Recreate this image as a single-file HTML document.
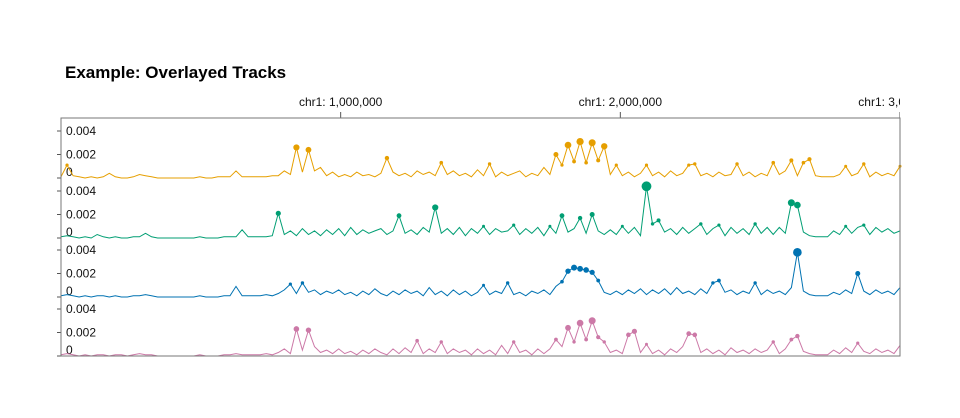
<!DOCTYPE html>
<html><head><meta charset="utf-8"><style>
body{margin:0;background:#fff;}
svg{display:block;font-family:"Liberation Sans",sans-serif;}
</style></head><body>
<svg id="chart" width="960" height="418">
<text x="65" y="78" font-size="17" font-weight="bold">Example: Overlayed Tracks</text>
<defs><clipPath id="clipTop"><rect x="0" y="0" width="900" height="418"/></clipPath></defs>
<g id="xaxis" clip-path="url(#clipTop)"></g>
<g id="tracks"></g>
<rect x="61" y="118" width="839" height="238" fill="none" stroke="#777" stroke-width="1"/>
</svg>
<script>
const xTickValues=[1000000,2000000,3000000];
const xTickLabels=["chr1: 1,000,000","chr1: 2,000,000","chr1: 3,000,000"];
const yTickValues=[0.004,0.002,0];
const yTickLabels=["0.004","0.002","0"];
const trackNames=["orange-track","green-track","blue-track","pink-track"];
const trackColors=["#E69F00","#009E73","#0072B2","#CC79A7"];
const orangeValues=[1,11,2,1,0,1,0,1,4,1,0,0,1,3,2,1,0,0,0,0,0,0,0,1,0,0,1,1,1,6,1,1,1,1,1,2,
2,6,3,26,5,24,6,9,2,5,1,3,1,5,2,3,1,4,17,5,2,4,1,6,3,5,2,13,3,6,2,4,1,7,2,12,1,5,2,4,6,1,4,2,9,3,
20,11,28,14,31,13,30,15,27,3,
11,2,5,1,4,11,2,5,1,6,2,4,11,12,2,4,1,5,2,3,12,2,5,1,4,2,13,3,6,15,2,13,16,2,1,1,1,3,10,2,4,12,1,5,2,4,2,10];
const greenValues=[1,2,1,0,1,0,3,1,0,1,0,0,1,1,4,1,0,0,0,0,0,0,0,1,0,0,0,1,1,1,7,1,1,1,1,2,
21,3,6,2,8,3,6,2,7,3,8,2,9,3,7,4,6,8,3,6,19,4,7,3,9,5,26,4,8,3,9,2,8,4,10,3,8,5,6,11,3,8,4,9,2,10,
4,19,5,8,17,4,20,6,3,7,
3,10,4,9,2,44,12,15,5,8,3,9,4,8,12,3,8,11,2,9,4,8,3,12,4,9,3,9,4,30,28,5,2,1,1,1,6,3,10,4,9,11,3,9,5,8,4,6];
const blueValues=[1,2,1,0,1,0,1,1,0,1,0,0,1,1,2,1,0,0,0,0,0,0,0,1,0,0,0,1,1,9,1,1,1,1,2,1,
3,6,11,3,12,4,6,2,5,3,6,2,4,1,5,2,7,3,1,5,2,6,3,5,1,8,2,5,1,6,2,5,1,4,10,2,5,3,12,2,4,1,5,3,6,2,
9,13,22,25,24,23,21,14,4,2,
5,2,6,3,7,2,6,3,7,2,8,3,5,2,7,3,12,14,4,6,2,5,3,12,2,6,3,5,2,8,38,5,2,1,1,1,4,2,6,3,20,5,2,6,3,5,2,8];
const pinkValues=[1,2,1,0,1,0,1,1,0,1,1,0,1,2,1,1,0,0,0,0,0,0,0,1,0,0,0,1,1,2,1,1,1,1,2,1,
3,6,2,23,5,22,8,3,5,2,6,2,4,1,5,2,6,3,1,6,2,7,3,13,2,6,3,12,2,6,3,5,1,6,2,5,1,9,2,12,3,5,1,6,2,6,
14,8,24,12,28,14,30,16,12,3,
5,2,18,21,3,10,2,5,1,6,3,8,19,18,3,6,2,5,1,7,3,5,2,6,3,5,12,2,6,14,17,4,2,1,1,1,5,2,7,3,11,4,2,6,3,5,2,9];
const seriesValues=[orangeValues,greenValues,blueValues,pinkValues];
const valueUnit=0.0001;
const genomeStart=0, genomeEnd=3000000, binCount=140;

const NS="http://www.w3.org/2000/svg";
const X0=61,X1=900;
const baselines=[178,238,297,356];
const pxPerUnit=23.5/0.002;
function xGenome(g){return X0+(g-genomeStart)/(genomeEnd-genomeStart)*(X1-X0);}
function xBin(i){return xGenome(genomeStart+i*(genomeEnd-genomeStart)/(binCount-1));}
function yVal(t,v){return baselines[t]-v*pxPerUnit;}
function mk(tag,attrs,parent){const e=document.createElementNS(NS,tag);for(const k in attrs)e.setAttribute(k,attrs[k]);parent.appendChild(e);return e;}

const xa=document.getElementById('xaxis');
xTickValues.forEach((v,i)=>{
  const x=xGenome(v);
  const l=mk('line',{x1:x,x2:x,y1:112,y2:118,stroke:'#555'},xa);
  
  
  const t=mk('text',{x:x,y:106,'font-size':12,'text-anchor':'middle',fill:'#111'},xa);
  t.textContent=xTickLabels[i];
  
  
});

const tg=document.getElementById('tracks');
seriesValues.forEach((vals,t)=>{
  const g=mk('g',{},tg);
  
  
  yTickValues.forEach((v,k)=>{
    const y=yVal(t,v);
    const tk=mk('line',{x1:57,x2:61,y1:y,y2:y,stroke:'#555'},g);
    
    
    const tx=mk('text',{x:66,y:v===0?y-2:y+4,'font-size':12,fill:'#111'},g);
    tx.textContent=yTickLabels[k];
    
    
  });
  let d='';
  vals.forEach((v,i)=>{d+=(i?'L':'M')+xBin(i).toFixed(1)+','+yVal(t,v*valueUnit).toFixed(1);});
  const p=mk('path',{d:d,fill:'none',stroke:trackColors[t],'stroke-width':1},g);
  
  
  vals.forEach((v,i)=>{
    if(v>=10){
      const c=mk('circle',{cx:xBin(i),cy:yVal(t,v*valueUnit),r:(0.5+v*0.1).toFixed(2),fill:trackColors[t]},g);
      
      
    }
  });
});
</script>
</body></html>
